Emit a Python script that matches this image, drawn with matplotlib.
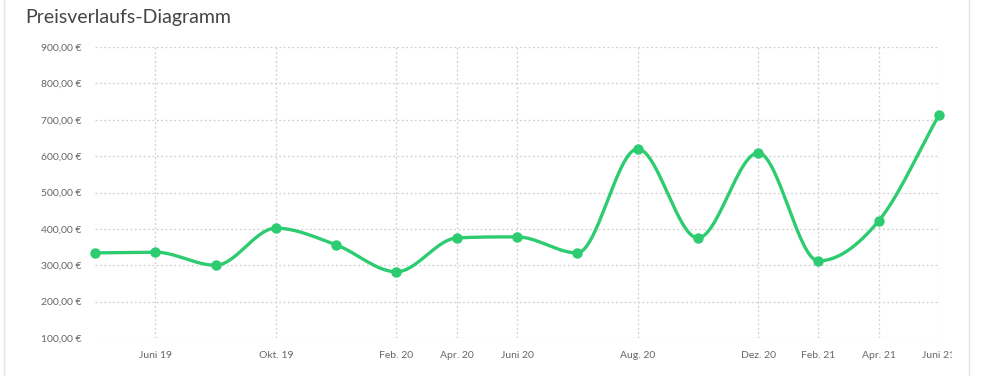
import numpy as np
import matplotlib.pyplot as plt
from matplotlib.lines import Line2D
from matplotlib.transforms import Bbox

plt.rcParams['font.family'] = ['Lato', 'DejaVu Sans']

# price history (one point per interval, only some months are labelled)
month_labels = ["", "Juni 19", "", "Okt. 19", "", "Feb. 20", "Apr. 20", "Juni 20",
                "", "Aug. 20", "", "Dez. 20", "Feb. 21", "Apr. 21", "Juni 21"]
prices = [334, 336, 300, 402, 356, 282, 375, 378, 334, 620, 375, 609, 312, 422, 713]
y_ticks = [100, 200, 300, 400, 500, 600, 700, 800, 900]

GREEN = "#2ecc71"
GRID = "#cfcfcf"
TEXT = "#666666"


def monotone_curve(x, y, n=30):
    # Fritsch-Carlson monotone cubic, like chart.js 'monotone'
    x = np.asarray(x, float)
    y = np.asarray(y, float)
    h = np.diff(x)
    d = np.diff(y) / h
    m = np.zeros_like(y)
    m[0], m[-1] = d[0], d[-1]
    for i in range(1, len(y) - 1):
        if d[i - 1] * d[i] <= 0:
            m[i] = 0
        else:
            m[i] = (d[i - 1] + d[i]) / 2
    for i in range(len(d)):
        if d[i] == 0:
            m[i] = m[i + 1] = 0
            continue
        a, b = m[i] / d[i], m[i + 1] / d[i]
        s = a * a + b * b
        if s > 9:
            t = 3 / np.sqrt(s)
            m[i] = t * a * d[i]
            m[i + 1] = t * b * d[i]
    xs, ys = [], []
    for i in range(len(h)):
        t = np.linspace(0, 1, n, endpoint=False)
        h00 = 2 * t**3 - 3 * t**2 + 1
        h10 = t**3 - 2 * t**2 + t
        h01 = -2 * t**3 + 3 * t**2
        h11 = t**3 - t**2
        xs.append(x[i] + t * h[i])
        ys.append(h00 * y[i] + h10 * h[i] * m[i] + h01 * y[i + 1] + h11 * h[i] * m[i + 1])
    xs.append([x[-1]])
    ys.append([y[-1]])
    return np.concatenate(xs), np.concatenate(ys)


x = np.arange(len(prices))

fig = plt.figure(figsize=(10.02, 3.76), dpi=100)
ax = fig.add_axes([95 / 1002, 1 - 338 / 376, (939 - 95) / 1002, (338 - 47) / 376])

cx, cy = monotone_curve(x, prices)
ax.plot(cx, cy, color=GREEN, lw=2.4, solid_capstyle='round', zorder=3, clip_on=False)
ax.plot(x, prices, 'o', color=GREEN, ms=6.5, zorder=4, clip_on=False)

ax.set_xlim(0, len(prices) - 1)
ax.set_ylim(100, 900)
ax.set_yticks(y_ticks)
ax.set_yticklabels([f"{v},00 €" for v in y_ticks])

lab_pos = [i for i, l in enumerate(month_labels) if l]
ax.set_xticks(lab_pos)
ax.set_xticklabels([month_labels[i] for i in lab_pos])

ax.grid(True, color=GRID, ls=(0, (1.5, 2)), lw=0.9)
ax.set_axisbelow(True)
for s in ax.spines.values():
    s.set_visible(False)
ax.tick_params(length=0, labelsize=7.5, labelcolor=TEXT)
ax.tick_params(axis='y', pad=10)
ax.tick_params(axis='x', pad=9)

# last label is cut off at the panel edge in the original
clip = Bbox.from_extents(0, 0, 952, 376)
for t in ax.get_xticklabels():
    t.set_clip_box(clip)
    t.set_clip_on(True)

fig.text(25 / 1002, 1 - 18 / 376, "Preisverlaufs-Diagramm", fontsize=14,
         color="#444444", va='center', ha='left')

fig.add_artist(Line2D([4 / 1002, 4 / 1002], [0, 1], color="#e3e3e3", lw=1))
fig.add_artist(Line2D([969 / 1002, 969 / 1002], [0, 1], color="#e3e3e3", lw=1))

fig.savefig("out.png", dpi=100)
